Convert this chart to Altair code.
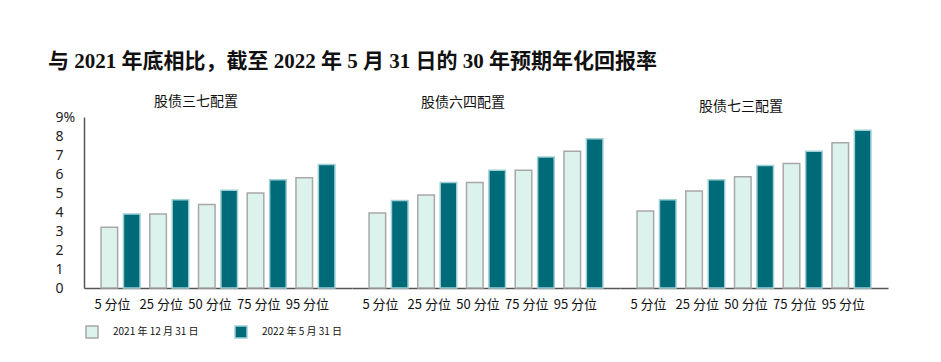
import altair as alt
import pandas as pd

categories = ["5 分位", "25 分位", "50 分位", "75 分位", "95 分位"]
panels = ["股债三七配置", "股债六四配置", "股债七三配置"]
series = ["2021 年 12 月 31 日", "2022 年 5 月 31 日"]

v2021 = [
    [3.2, 3.9, 4.4, 5.0, 5.8],
    [3.95, 4.9, 5.55, 6.2, 7.2],
    [4.05, 5.1, 5.85, 6.55, 7.65],
]
v2022 = [
    [3.9, 4.65, 5.15, 5.7, 6.5],
    [4.6, 5.55, 6.2, 6.9, 7.85],
    [4.65, 5.7, 6.45, 7.2, 8.3],
]
y_ticks = [0, 1, 2, 3, 4, 5, 6, 7, 8, 9]

fill_colors = ["#dcf2ec", "#006b78"]
stroke_colors = ["#a8a8a8", "#9fd0d6"]
title_dx = [-22, -23, -13]
title_offset = [1, 7, 3]

CJK = "Noto Sans CJK SC"

legend_kw = dict(title=None, orient="none", direction="horizontal",
                 legendX=1, legendY=208,
                 symbolType="square", symbolSize=144, symbolStrokeWidth=1.5,
                 labelFont=CJK, labelFontSize=10, labelColor="#111111",
                 labelOffset=14, columnPadding=33)

charts = []
for i, p in enumerate(panels):
    rows = []
    for j, c in enumerate(categories):
        rows.append({"cat": c, "series": series[0], "value": v2021[i][j]})
        rows.append({"cat": c, "series": series[1], "value": v2022[i][j]})
    df = pd.DataFrame(rows)
    if i == 0:
        yaxis = alt.Axis(
            values=y_ticks,
            labelExpr="datum.value == 9 ? '9%' : datum.label",
            grid=False, ticks=False, domain=True, domainColor="#555555",
            domainWidth=1.5, labelAlign="left", labelPadding=29,
            labelFont="Noto Sans", labelFontSize=14, labelColor="#222222",
            title=None, labelBaseline="middle",
        )
    else:
        yaxis = None
    ch = alt.Chart(df).mark_bar(strokeWidth=1.5).encode(
        x=alt.X("cat:N", sort=categories,
                scale=alt.Scale(paddingInner=0.2, paddingOuter=0.35),
                axis=alt.Axis(title=None, labelAngle=0, ticks=False, domain=True,
                              domainColor="#555555", domainWidth=1.5,
                              labelFont=CJK, labelFontSize=13, labelColor="#111111",
                              labelPadding=10, labelOffset=-8)),
        xOffset=alt.XOffset("series:N", sort=series,
                            scale=alt.Scale(paddingInner=0.26)),
        y=alt.Y("value:Q", scale=alt.Scale(domain=[0, 9], nice=False), axis=yaxis),
        color=alt.Color("series:N", sort=series,
                        scale=alt.Scale(domain=series, range=fill_colors),
                        legend=alt.Legend(**legend_kw)),
        stroke=alt.Stroke("series:N", sort=series,
                          scale=alt.Scale(domain=series, range=stroke_colors),
                          legend=alt.Legend(**legend_kw)),
    ).properties(
        width=268, height=171,
        title=alt.TitleParams(p, font=CJK, fontSize=14, fontWeight="normal",
                              color="#111111", dx=title_dx[i], offset=title_offset[i]),
    )
    charts.append(ch)

chart = alt.hconcat(*charts, spacing=0).properties(
    title=alt.TitleParams(
        "与 2021 年底相比，截至 2022 年 5 月 31 日的 30 年预期年化回报率",
        font="Liberation Serif, Noto Sans CJK SC", fontSize=21, fontWeight="bold",
        color="#111111", anchor="start", dx=-7, offset=23,
    ),
    padding={"top": 43, "left": 40, "right": 10, "bottom": 5},
).configure_view(stroke=None).configure_concat(spacing=0)

chart.save("out.html", embed_options={"renderer": "svg", "actions": False})
